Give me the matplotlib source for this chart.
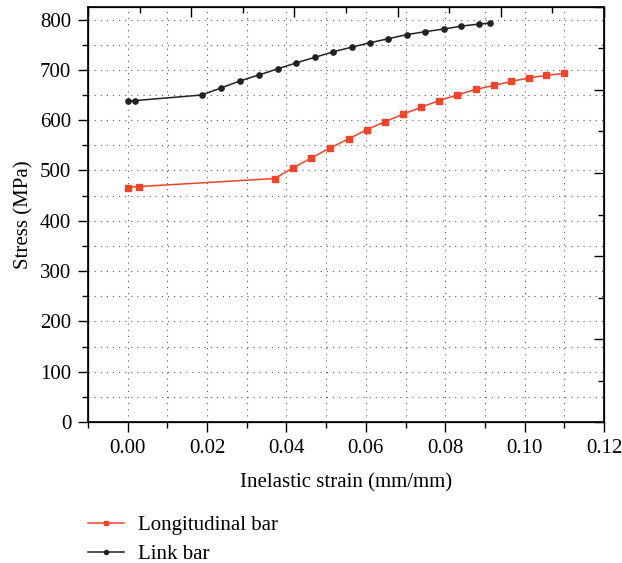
import matplotlib
matplotlib.use('Agg')
import matplotlib.pyplot as plt
from matplotlib.ticker import MultipleLocator
from matplotlib.lines import Line2D

plt.rcParams['font.family'] = ['Liberation Serif', 'DejaVu Serif']

# Longitudinal bar
long_strain = [0.0, 0.0028, 0.0370, 0.0416, 0.0463, 0.0510, 0.0557, 0.0602, 0.0648,
               0.0694, 0.0740, 0.0785, 0.0830, 0.0877, 0.0922, 0.0966, 0.1011, 0.1055, 0.1100]
long_stress = [466, 468, 484, 505, 525, 545, 563, 581, 597,
               612, 626, 639, 650, 661, 669, 677, 684, 689, 693]

# Link bar
link_strain = [0.0, 0.0019, 0.0186, 0.0235, 0.0283, 0.0331, 0.0378, 0.0425, 0.0472, 0.0518,
               0.0564, 0.0611, 0.0657, 0.0703, 0.0750, 0.0796, 0.0841, 0.0885, 0.0912]
link_stress = [638, 639, 650, 664, 678, 690, 702, 714, 725, 736,
               745, 754, 762, 770, 776, 781, 787, 791, 793]

red = '#f0432a'
fs = 15
fig = plt.figure(figsize=(6.22, 5.63), dpi=100)
ax = fig.add_axes([0.1415, 0.2504, 0.8295, 0.7372])

ax.plot(long_strain, long_stress, color=red, lw=1.1, marker='s', ms=3.8, label='Longitudinal bar')
ax.plot(link_strain, link_stress, color='#222222', lw=1.1, marker='o', ms=3.8, label='Link bar')

ax.set_xlim(-0.01, 0.12)
ax.set_ylim(0, 825)
ax.xaxis.set_major_locator(MultipleLocator(0.02))
ax.xaxis.set_minor_locator(MultipleLocator(0.01))
ax.yaxis.set_major_locator(MultipleLocator(100))
ax.yaxis.set_minor_locator(MultipleLocator(50))
ax.xaxis.set_major_formatter(lambda v, p: '%.2f' % v)

ax.grid(True, which='both', color='#555555', lw=0.8, linestyle=(0, (1, 4.5)))
ax.tick_params(which='major', direction='out', length=7, width=1, labelsize=fs, pad=5)
ax.tick_params(which='minor', direction='out', length=4, width=1)
for s in ax.spines.values():
    s.set_linewidth(1.2)

# top / right frame ticks (Origin style)
tx = ax.twiny()
tx.set_xlim(0, 5)
tx.xaxis.set_major_locator(MultipleLocator(1))
tx.xaxis.set_minor_locator(MultipleLocator(0.5))
tx.tick_params(which='major', direction='in', length=7, width=1, labeltop=False)
tx.tick_params(which='minor', direction='in', length=4, width=1)
ty = ax.twinx()
ty.set_ylim(0, 5)
ty.yaxis.set_major_locator(MultipleLocator(1))
ty.yaxis.set_minor_locator(MultipleLocator(0.5))
ty.tick_params(which='major', direction='in', length=7, width=1, labelright=False)
ty.tick_params(which='minor', direction='in', length=4, width=1)

ax.set_xlabel('Inelastic strain (mm/mm)', fontsize=fs, labelpad=11)
ax.set_ylabel('Stress (MPa)', fontsize=fs, labelpad=5)

handles = [Line2D([], [], color=red, lw=1.1, marker='s', ms=3),
           Line2D([], [], color='#222222', lw=1.1, marker='o', ms=3)]
fig.legend(handles, ['Longitudinal bar', 'Link bar'], loc='upper left',
           bbox_to_anchor=(0.142, 0.084), frameon=False, fontsize=fs,
           handlelength=1.7, handletextpad=0.7, labelspacing=0.45, borderaxespad=0, borderpad=0,
           numpoints=1)

fig.savefig('out.png', dpi=100)
